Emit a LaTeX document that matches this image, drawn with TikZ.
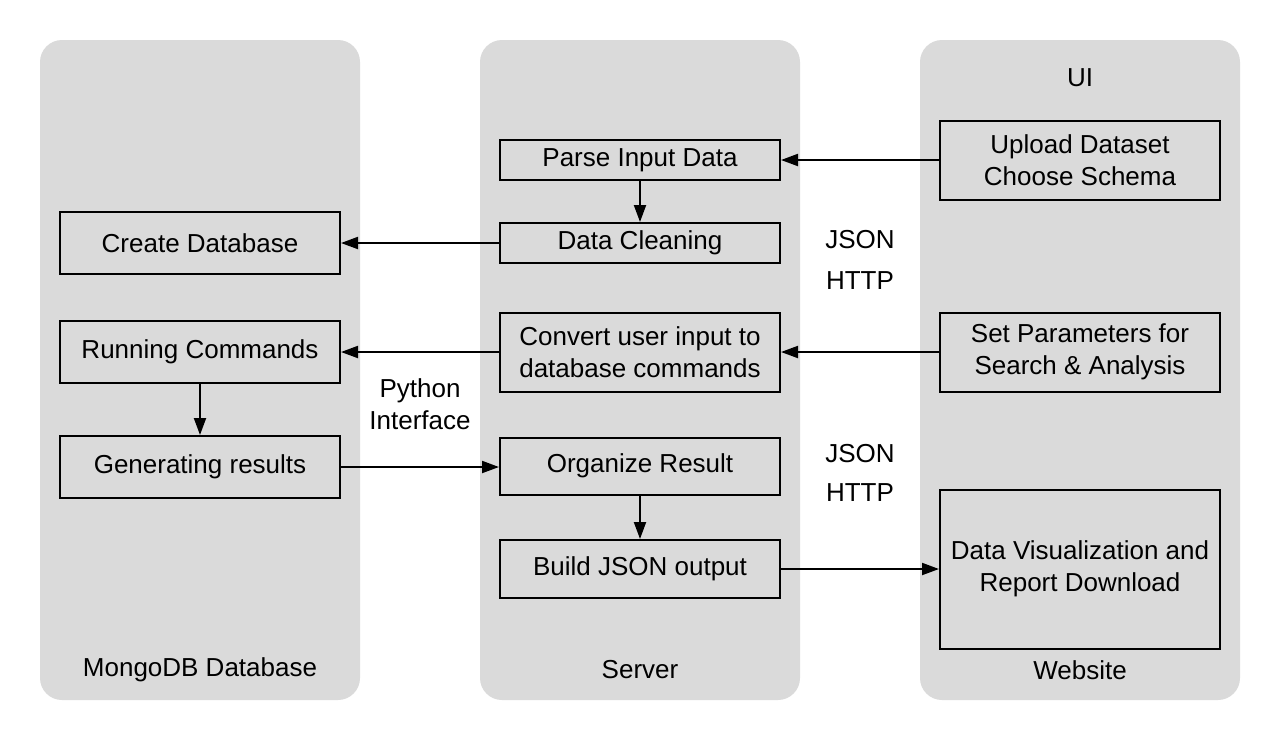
\documentclass[tikz,border=0pt]{standalone}
\usepackage{fontspec}
\setmainfont{Liberation Sans}
\usetikzlibrary{arrows.meta}
\definecolor{lanegray}{RGB}{218,218,218}
\begin{document}
\begin{tikzpicture}[x=1pt,y=-1pt,
  lane/.style={fill=lanegray,draw=none,rounded corners=22pt},
  procbox/.style={draw=black,line width=2pt,fill=lanegray,inner sep=0pt,align=center,font=\fontsize{26}{32}\selectfont},
  lbl/.style={inner sep=0pt,align=center,font=\fontsize{26}{32}\selectfont},
  conn/.style={line width=2pt,-{Triangle[length=17pt,width=12pt]}}]
\useasboundingbox (0,0) rectangle (1280,740);
\fill[white] (0,0) rectangle (1280,740);
% lanes
\path[lane] (40,40) rectangle (360,700);
\path[lane] (480,40) rectangle (800,700);
\path[lane] (920,40) rectangle (1240,700);
% lane labels
\node[lbl] (lmongo) at (200,670) {MongoDB Database};
\node[lbl] (lserver) at (640,670) {Server};
\node[lbl] (lweb) at (1080,670) {Website};
\node[lbl] (lui) at (1080,78) {UI};
% boxes left
\node[procbox,minimum width=280pt,minimum height=62pt] (create) at (200,243) {Create Database};
\node[procbox,minimum width=280pt,minimum height=62pt] (run) at (200,352) {Running Commands};
\node[procbox,minimum width=280pt,minimum height=62pt] (gen) at (200,467) {Generating results};
% boxes middle
\node[procbox,minimum width=280pt,minimum height=40pt] (parse) at (640,160) {Parse Input Data};
\node[procbox,minimum width=280pt,minimum height=40pt] (clean) at (640,243) {Data Cleaning};
\node[procbox,minimum width=280pt,minimum height=79pt] (convert) at (640,352) {Convert user input to\\database commands};
\node[procbox,minimum width=280pt,minimum height=57pt] (organize) at (640,466) {Organize Result};
\node[procbox,minimum width=280pt,minimum height=58pt] (build) at (640,569) {Build JSON output};
% boxes right
\node[procbox,minimum width=280pt,minimum height=79pt] (upload) at (1080,160) {Upload Dataset\\Choose Schema};
\node[procbox,minimum width=280pt,minimum height=79pt] (params) at (1080,352) {Set Parameters for\\Search \& Analysis};
\node[procbox,minimum width=280pt,minimum height=159pt] (vis) at (1080,569) {Data Visualization and\\Report Download};
% free labels
\node[lbl] (json1) at (860,240) {JSON};
\node[lbl] (http1) at (860,281) {HTTP};
\node[lbl] (json2) at (860,454) {JSON};
\node[lbl] (http2) at (860,493) {HTTP};
\node[lbl] (py) at (420,404) {Python\\Interface};
% connectors
\draw[conn] (upload.west) -- (parse.east);
\draw[conn] (parse.south) -- (clean.north);
\draw[conn] (clean.west) -- (create.east);
\draw[conn] (convert.west) -- (run.east);
\draw[conn] (params.west) -- (convert.east);
\draw[conn] (run.south) -- (gen.north);
\draw[conn] (gen.east) -- (organize.west |- gen.east);
\draw[conn] (organize.south) -- (build.north);
\draw[conn] (build.east) -- (vis.west);
\end{tikzpicture}
\end{document}
